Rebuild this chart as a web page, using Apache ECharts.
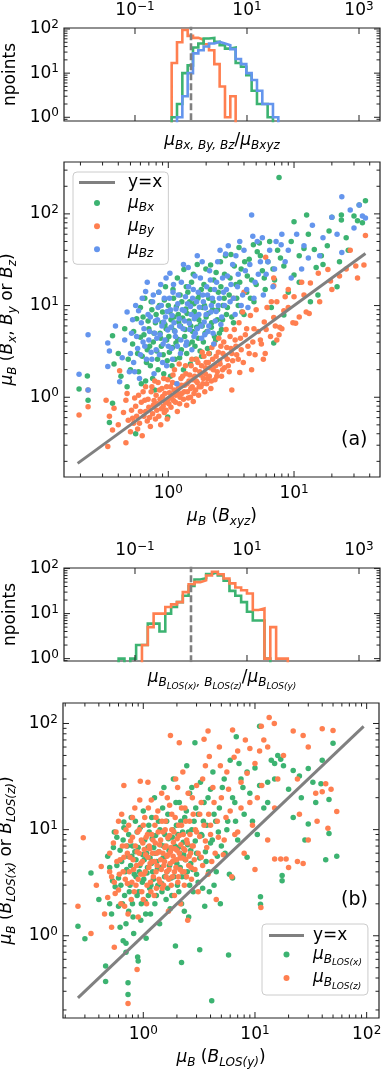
<!DOCTYPE html>
<html>
<head>
<meta charset="utf-8">
<script src="https://cdn.jsdelivr.net/npm/echarts@6/dist/echarts.min.js"></script>
<style>
html, body { margin: 0; padding: 0; background: #fff; }
#chart { width: 382px; height: 1070px; }
</style>
</head>
<body>
<div id="chart"></div>
<script>
// top histogram: mu_Bx,By,Bz / mu_Bxyz
const hist1Edges = [0.4518, 0.5626, 0.7005, 0.8722, 1.0859, 1.3521, 1.6835, 2.0961, 2.6097, 3.2495, 4.0459,
  5.0374, 6.2718, 7.8095, 9.7231, 12.106, 15.073, 18.767, 23.367, 29.094, 36.225]
const hist1Bx = [1, 2, 10, 15, 38, 47, 61, 63, 51, 43, 36, 38, 17, 14, 9, 4, 2, 2, 1, 0]
const hist1By = [17, 50, 95, 70, 63, 57, 45, 33, 16, 5, 1, 3, 0, 0, 0, 0, 0, 0, 0, 0]
const hist1Bz = [0, 1, 3, 10, 28, 33, 40, 47, 51, 47, 43, 35, 21, 16, 10, 7, 4, 2, 2, 1]

// second histogram: mu_BLOS(x),BLOS(z) / mu_BLOS(y)
const hist2Edges = [0.05102, 0.06484, 0.08243, 0.10476, 0.13316, 0.16928, 0.21513, 0.27346, 0.34762, 0.44175,
  0.56156, 0.71386, 0.90721, 1.1532, 1.4659, 1.8630, 2.3681, 3.0103, 3.8252, 4.8627, 6.1818, 7.8567, 9.9862,
  12.694, 16.133, 20.508, 26.068, 33.128, 42.109, 53.52]
const hist2Lx = [1, 0, 1, 2, 2, 6, 6, 4, 10, 14, 18, 25, 41, 57, 61, 76, 83, 70, 54, 32, 25, 18, 11, 7, 7, 1, 0, 0, 0]
const hist2Lz = [0, 0, 0, 0, 2, 5, 10, 10, 14, 16, 18, 30, 45, 50, 55, 70, 85, 75, 60, 47, 38, 33, 28, 12, 13, 1, 5, 1, 1]

// panel (a): mu_B(Bxyz) vs mu_B(Bx), mu_B(By), mu_B(Bz)
const aBx = [[0.195,1.23],[0.227,1.71],[0.23,0.93],[0.34,0.53],[0.36,4.7],[0.37,2.3],[0.36,0.86],[0.40,3.0],[0.42,1.7],
  [0.45,5.6],[0.47,1.3],[0.48,2.6],[0.52,3.8],[0.55,0.4],[0.56,7.2],[0.58,1.9],[0.6,4.5],[0.62,2.8],[0.63,7.5],[0.65,12],
  [0.66,1.5],[0.68,3.3],[0.7,5.6],[0.72,2.2],[0.74,9.0],[0.76,4.0],[0.78,1.2],[0.79,6.5],[0.82,2.6],[0.84,14],[0.86,5.0],
  [0.88,3.6],[0.9,8.5],[0.92,1.8],[0.94,6.2],[0.95,16],[0.97,4.2],[0.99,0.61],[1.0,10],[1.02,3.1],[1.05,7.0],[1.07,2.2],
  [1.1,12],[1.12,5.3],[1.15,3.9],[1.18,20],[1.2,8.0],[1.23,2.7],[1.25,6.0],[1.28,11],[1.33,24.8],[1.35,4.6],[1.38,9.2],
  [1.4,3.0],[1.43,14],[1.46,6.8],[1.5,2.3],[1.53,18],[1.56,5.2],[1.6,10.5],[1.63,3.6],[1.66,7.8],[1.7,28],[1.73,4.4],
  [1.77,13],[1.8,6.2],[1.84,2.8],[1.88,9.5],[1.92,17],[1.96,5.0],[2.0,7.5],[2.05,3.4],[2.1,12],[2.17,27.7],[2.2,5.8],
  [2.25,9.0],[2.3,19],[2.38,4.2],[2.45,7.0],[2.5,14],[2.6,30],[2.65,5.5],[2.72,10],[2.8,22],[2.9,8.0],[3.05,13],[3.15,36],
  [3.3,6.5],[3.45,17],[3.6,10],[3.65,43],[3.8,25],[4.0,8.0],[4.2,14],[4.4,32],[4.6,19],[4.8,11],[5.1,38.7],[5.3,48],
  [5.6,24],[5.9,15],[6.2,30],[6.6,9.5],[6.9,3.9],[7.0,19],[7.4,40],[7.6,250],[8.3,7.9],[8.3,27],[9.0,14],[10,21.6],[10,82],
  [11,35],[12,42],[12.6,97],[13.5,11],[14.5,41],[15,26],[15.5,13],[16.5,35],[18.4,45],[20,92],[22,16],[23,30],[23.8,97],
  [23.8,86],[27,40],[30,95],[32,84],[33,125],[37,139],
  [0.5,2.0],[0.53,5.2],[0.57,3.0],[0.6,9.5],[0.61,1.4],[0.64,4.8],[0.67,2.4],[0.69,6.8],[0.71,3.6],[0.73,11],[0.75,1.6],
  [0.77,5.0],[0.8,8.0],[0.81,3.2],[0.83,2.0],[0.85,10],[0.87,4.4],[0.89,6.5],[0.91,2.9],[0.93,11.5],[0.96,5.6],[0.98,2.5],
  [1.01,4.6],[1.03,8.5],[1.04,1.7],[1.06,5.8],[1.08,3.5],[1.09,15],[1.11,7.5],[1.13,2.6],[1.16,9.8],[1.19,4.3],[1.21,6.6],
  [1.24,13],[1.27,3.3],[1.3,7.3],[1.32,2.0],[1.36,5.5],[1.39,16],[1.41,8.2],[1.44,3.8],[1.48,11],[1.51,6.0],[1.55,4.0],
  [1.58,22],[1.61,8.6],[1.65,2.6],[1.68,5.8],[1.72,12],[1.75,7.0],[1.79,3.2],[1.83,15],[1.86,6.0],[1.9,4.0],[1.94,10],
  [1.99,25],[2.03,5.2],[2.08,8.2],[2.12,3.0],[2.16,15],[2.21,6.5],[2.27,11],[2.33,4.6],[2.4,23],[2.47,9.0],[2.55,5.0],
  [2.62,16],[2.7,7.0],[2.78,12],[2.85,35],[2.95,9.5],[3.1,20],[3.2,7.5],[3.35,27],[3.5,12],[3.7,18],[3.85,8.5],[4.05,30],
  [4.25,21],[4.5,12],[4.75,46],[5.0,17],[5.4,35],[5.8,20],[6.4,50],[6.8,25],[7.8,33],[9.5,50],[11,18],[13,60],[17,28],
  [19,65],[26,55],[35,80]]
const aBy = [[0.195,0.64],[0.23,0.79],[0.23,1.2],[0.32,0.93],[0.33,0.29],[0.34,0.62],[0.36,0.44],[0.37,0.76],[0.40,0.50],
  [0.41,1.95],[0.44,0.68],[0.46,0.93],[0.46,0.32],[0.47,1.1],[0.48,0.56],[0.52,0.59],[0.53,0.52],[0.55,0.80],[0.57,0.45],
  [0.58,1.05],[0.60,0.70],[0.62,0.38],[0.64,0.62],[0.65,0.93],[0.66,1.3],[0.68,0.55],[0.70,0.78],[0.72,0.48],[0.73,1.15],
  [0.75,0.66],[0.77,0.92],[0.78,1.5],[0.79,0.58],[0.82,0.85],[0.84,0.62],[0.85,1.2],[0.87,0.5],[0.88,0.75],[0.9,1.02],
  [0.92,1.6],[0.93,0.68],[0.95,0.88],[0.97,1.3],[0.98,0.58],[1.0,0.95],[1.02,1.12],[1.05,0.78],[1.08,1.45],[1.1,0.92],
  [1.12,2.0],[1.15,1.05],[1.18,0.7],[1.2,1.25],[1.23,0.85],[1.26,1.6],[1.28,1.1],[1.32,0.95],[1.35,1.35],[1.38,1.8],
  [1.4,0.82],[1.42,1.15],[1.46,1.5],[1.5,1.0],[1.52,2.2],[1.55,1.3],[1.58,0.9],[1.62,1.7],[1.65,1.2],[1.68,2.6],[1.7,1.45],
  [1.74,1.05],[1.78,1.9],[1.82,1.3],[1.86,3.1],[1.9,1.6],[1.95,1.15],[1.98,2.1],[2.02,1.4],[2.08,2.4],[2.12,1.7],[2.18,1.25],
  [2.22,3.5],[2.28,2.0],[2.35,1.55],[2.4,2.8],[2.45,1.9],[2.52,4.4],[2.58,2.3],[2.65,1.7],[2.72,3.0],[2.8,2.1],[2.88,5.5],
  [2.95,2.6],[3.05,1.9],[3.15,3.4],[3.2,1.2],[3.25,2.5],[3.3,12],[3.4,4.2],[3.5,2.9],[3.65,6.5],[3.7,1.86],[3.8,3.3],
  [3.95,2.4],[4.0,14],[4.1,4.8],[4.3,3.6],[4.5,7.8],[4.6,2.0],[4.7,4.0],[4.9,2.9],[5.2,5.2],[5.5,3.8],[5.7,2.6],[5.8,6.6],
  [5.9,3.0],[5.95,33.6],[6.1,9.5],[6.5,4.6],[6.9,16.4],[6.9,20],[6.9,7.4],[7.3,11],[7.3,4.2],[7.6,4.8],[7.7,5.8],[8.3,8.8],
  [8.5,12.5],[9.0,15],[9.8,6.5],[10,12.5],[10.3,6.4],[11.5,18],[12.5,8.5],[13.2,8.2],[13.5,17.6],[15.6,22.5],[18.6,24.7],
  [19.5,18.5],[23,21],[28,40],[31,27],[36,27.7],[37,58],
  [0.5,0.42],[0.51,0.72],[0.54,0.98],[0.56,0.62],[0.59,0.52],[0.61,0.88],[0.63,1.15],[0.66,0.7],[0.69,0.95],[0.71,0.6],
  [0.74,1.3],[0.76,0.82],[0.8,1.05],[0.81,0.72],[0.83,1.45],[0.86,0.95],[0.89,1.25],[0.91,0.8],[0.94,1.1],[0.96,0.72],
  [0.99,1.55],[1.01,0.85],[1.04,1.3],[1.06,1.0],[1.09,1.75],[1.11,1.2],[1.14,0.88],[1.17,1.4],[1.19,1.1],[1.22,2.3],
  [1.24,1.0],[1.27,1.35],[1.3,1.7],[1.34,1.15],[1.37,2.2],[1.41,1.4],[1.44,0.98],[1.48,1.75],[1.51,1.25],[1.54,2.6],
  [1.57,1.55],[1.6,1.1],[1.64,2.0],[1.67,1.5],[1.72,2.4],[1.76,1.3],[1.8,1.75],[1.84,2.2],[1.88,1.4],[1.92,2.8],[1.97,1.8],
  [2.0,2.4],[2.05,1.6],[2.1,3.0],[2.15,2.1],[2.2,1.5],[2.25,2.6],[2.32,3.8],[2.38,2.2],[2.43,1.7],[2.5,3.1],[2.56,2.5],
  [2.62,3.6],[2.7,2.0],[2.76,4.0],[2.84,2.8],[2.92,3.5],[3.0,2.2],[3.1,4.6],[3.2,3.0],[3.35,5.5],[3.45,3.6],[3.6,2.6],
  [3.75,4.4],[3.9,8.5],[4.2,5.6],[4.4,3.0],[4.8,5.6],[5.0,9.0],[5.4,4.2],[6.0,5.5],[6.6,11],[7.1,6.0],[8.0,5.6],[9.0,9.5],
  [11,7.5],[12,13],[16,11],[20,15],[26,25],[32,20]]
const aBz = [[0.195,1.78],[0.23,1.2],[0.23,4.8],[0.33,3.9],[0.34,3.2],[0.33,2.16],[0.38,6.0],[0.41,1.48],[0.43,2.7],
  [0.45,4.2],[0.47,8.5],[0.49,1.9],[0.51,5.0],[0.53,2.4],[0.55,10],[0.57,3.4],[0.59,1.6],[0.61,6.5],[0.63,4.0],[0.66,14.2],
  [0.67,2.6],[0.69,8.0],[0.71,5.2],[0.73,3.1],[0.75,11],[0.77,1.8],[0.79,6.8],[0.81,4.4],[0.83,9.5],[0.85,2.9],[0.87,17],
  [0.89,6.0],[0.91,3.8],[0.93,12],[0.95,7.5],[0.97,2.2],[0.99,5.4],[1.03,22.5],[1.04,9.0],[1.06,3.4],[1.09,14],[1.11,6.5],
  [1.14,4.6],[1.17,1.4],[1.19,10.5],[1.22,7.2],[1.25,3.0],[1.27,18],[1.31,5.6],[1.34,8.8],[1.37,12.5],[1.4,4.0],[1.44,26],
  [1.47,6.4],[1.5,9.8],[1.54,3.3],[1.58,15],[1.61,7.2],[1.64,5.0],[1.68,11],[1.7,35],[1.75,8.0],[1.8,20],[1.84,4.4],
  [1.88,13],[1.93,6.6],[1.97,9.4],[2.02,16],[2.07,5.2],[2.13,24],[2.18,8.5],[2.24,12],[2.3,3.8],[2.36,6.8],[2.42,18],
  [2.5,10],[2.58,40],[2.66,7.5],[2.75,14],[2.86,36.5],[2.95,21],[3.1,11],[3.25,28],[3.4,8.0],[3.55,16],[3.7,50],[3.9,13],
  [4.1,24],[4.3,9.5],[4.6,97],[4.7,57],[4.9,18],[5.1,50],[5.4,30],[5.7,13],[6.0,22],[6.4,40],[6.8,16],[7.2,50],[7.9,46],
  [8.5,30],[9.5,20],[10.5,60],[11.5,25],[13,33],[14,75],[17,55],[20,92],[24,38],[24,154],[30,70],[33,125],[35,95],[37,90],
  [0.5,3.0],[0.52,7.0],[0.54,1.9],[0.56,4.6],[0.58,8.8],[0.6,2.9],[0.62,12],[0.64,5.6],[0.65,3.6],[0.68,18],[0.7,4.2],
  [0.72,7.5],[0.74,2.6],[0.76,13],[0.78,5.0],[0.8,3.3],[0.82,7.0],[0.84,14],[0.86,4.8],[0.88,10],[0.9,2.4],[0.92,6.6],
  [0.94,4.2],[0.96,20],[0.98,8.6],[1.0,3.6],[1.02,12],[1.05,5.8],[1.07,7.8],[1.08,2.6],[1.1,17],[1.13,5.2],[1.15,9.2],
  [1.18,3.6],[1.2,13],[1.23,6.0],[1.26,4.2],[1.29,9.0],[1.32,28],[1.35,6.8],[1.38,3.7],[1.42,10.5],[1.45,16],[1.48,5.5],
  [1.52,8.0],[1.56,12],[1.6,4.6],[1.63,21],[1.66,7.6],[1.7,5.6],[1.73,14],[1.77,9.6],[1.82,6.0],[1.86,30],[1.9,11],
  [1.95,4.8],[2.0,8.0],[2.05,13],[2.1,6.0],[2.16,19],[2.2,10],[2.27,5.0],[2.33,15],[2.4,8.6],[2.47,30],[2.55,12],[2.62,6.2],
  [2.7,20],[2.8,10],[2.9,15],[3.0,45],[3.15,17],[3.3,12],[3.45,35],[3.6,22],[3.8,10],[4.0,40],[4.2,15],[4.45,28],[4.8,12],
  [5.2,22],[5.6,55],[6.2,30],[7.0,25],[8.0,60],[9.0,40],[12,45],[16,35],[22,60],[28,110]]

// panel (b): mu_B(BLOS(y)) vs mu_B(BLOS(x)), mu_B(BLOS(z))
const bLx = [[0.26,1.23],[0.30,0.94],[0.34,3.9],[0.40,2.2],[0.46,0.37],[0.46,0.52],[0.48,5.6],[0.50,4.4],[0.52,1.6],
  [0.54,6.8],[0.56,2.9],[0.58,8.5],[0.60,3.5],[0.62,1.2],[0.64,5.0],[0.66,0.9],[0.67,11.8],[0.67,10.4],[0.68,2.4],
  [0.70,0.7],[0.70,0.85],[0.71,4.2],[0.72,7.0],[0.73,0.36],[0.73,0.28],[0.74,1.7],[0.76,3.0],[0.78,13],[0.79,5.6],
  [0.80,2.0],[0.82,1.05],[0.84,6.2],[0.86,3.6],[0.88,9.5],[0.89,0.63],[0.90,0.58],[0.91,2.6],[0.93,4.6],[0.95,1.4],
  [0.97,7.8],[0.98,3.2],[1.0,15],[1.02,5.2],[1.04,2.1],[1.06,0.95],[1.08,3.9],[1.10,6.8],[1.12,11],[1.14,2.8],[1.16,1.6],
  [1.18,4.8],[1.20,8.2],[1.23,3.4],[1.26,20],[1.28,6.0],[1.31,2.4],[1.34,4.3],[1.37,12],[1.40,1.3],[1.43,7.2],[1.46,3.1],
  [1.50,5.4],[1.53,25],[1.56,9.0],[1.60,2.2],[1.63,4.0],[1.66,14],[1.70,6.4],[1.74,1.8],[1.78,3.5],[1.82,8.5],[1.86,30],
  [1.90,5.0],[1.94,0.8],[1.98,11],[2.02,3.0],[2.06,6.8],[2.10,18],[2.14,4.4],[2.2,0.56],[2.2,2.0],[2.25,9.5],[2.3,5.8],
  [2.35,13],[2.4,3.6],[2.45,40],[2.5,7.2],[2.55,1.5],[2.6,22],[2.66,4.8],[2.72,10],[2.8,2.6],[2.9,66],[2.95,16],[3.0,6.0],
  [3.1,3.2],[3.2,0.74],[3.25,28],[3.35,8.8],[3.45,12],[3.55,1.9],[3.65,5.0],[3.8,20],[3.9,2.6],[4.0,7.5],[4.1,0.244],
  [4.2,35],[4.3,14],[4.5,4.0],[4.7,9.5],[4.9,2.0],[5.1,25],[5.4,6.0],[5.8,0.66],[5.7,12],[6.0,45],[6.3,3.5],[6.6,18],
  [6.8,75],[7.0,8.0],[7.5,30],[8.0,14],[8.5,5.5],[9.0,22],[10,38],[10.5,9.0],[11,94],[11.2,2.33],[11.2,1.98],[12,16],
  [13,28],[14,45],[15,42],[16,50],[17,46],[17.5,3.7],[17.5,3.3],[20,24],[22,13],[25,32],[28,8.0],[30,37.7],[30,11.3],
  [35,18],[39,27],[43,5.2],[46,9.2],[46,19.2],[50,65],[54,5.6],
  [0.5,2.0],[0.53,3.3],[0.55,9.5],[0.58,4.6],[0.6,1.9],[0.62,6.4],[0.63,3.0],[0.65,2.0],[0.66,8.0],[0.69,4.0],[0.7,1.3],
  [0.72,5.6],[0.74,9.0],[0.75,2.6],[0.77,4.6],[0.8,7.0],[0.81,1.5],[0.83,3.8],[0.85,12],[0.86,5.2],[0.88,2.4],[0.9,6.8],
  [0.92,4.0],[0.94,10.5],[0.96,2.0],[0.99,5.8],[1.01,3.4],[1.03,8.0],[1.05,1.6],[1.07,6.0],[1.09,4.4],[1.11,2.4],[1.13,9.5],
  [1.15,5.4],[1.17,3.0],[1.19,13],[1.21,4.0],[1.24,6.8],[1.27,2.0],[1.29,8.8],[1.32,5.0],[1.35,3.0],[1.38,6.2],[1.41,10],
  [1.44,4.4],[1.47,2.6],[1.49,16],[1.52,7.0],[1.55,3.6],[1.58,5.6],[1.62,12],[1.65,2.8],[1.68,8.2],[1.72,4.6],[1.76,6.6],
  [1.8,2.4],[1.84,10],[1.88,3.6],[1.92,7.0],[1.96,18],[2.0,4.8],[2.04,9.0],[2.08,2.6],[2.12,6.0],[2.17,12],[2.22,3.6],
  [2.28,7.6],[2.33,1.7],[2.38,5.2],[2.43,15],[2.48,4.0],[2.54,9.5],[2.6,3.0],[2.66,6.4],[2.72,25],[2.78,4.2],[2.85,12],
  [2.92,7.8],[3.0,3.8],[3.1,14],[3.2,5.4],[3.3,9.0],[3.4,2.8],[3.5,18],[3.6,6.2],[3.7,11],[3.85,4.0],[4.0,24],[4.15,8.0],
  [4.3,3.0],[4.45,12],[4.6,5.6],[4.8,16],[5.0,7.0],[5.3,30],[5.6,10],[5.9,3.8],[6.3,20],[6.7,12],[7.2,42],[7.8,25],[8.5,35],
  [9.5,12],[11,26],[13,18],[15,30],[18,40],[22,36],[26,20],[33,28],[40,45]]
const bLz = [[0.26,1.9],[0.29,8.4],[0.34,1.05],[0.38,3.0],[0.42,4.5],[0.45,1.6],[0.48,2.3],[0.50,6.0],[0.52,3.6],
  [0.55,0.78],[0.55,3.2],[0.57,9.5],[0.60,2.7],[0.62,5.2],[0.64,14],[0.66,4.0],[0.67,26],[0.68,1.9],[0.70,7.0],[0.72,3.1],
  [0.73,0.23],[0.74,11],[0.76,5.5],[0.78,2.2],[0.80,8.5],[0.82,4.2],[0.84,16],[0.86,3.0],[0.88,0.48],[0.88,6.2],[0.90,1.5],
  [0.92,10],[0.94,28.6],[0.95,4.8],[0.97,2.6],[0.99,7.5],[1.01,3.8],[1.03,13],[1.05,5.8],[1.07,2.0],[1.09,9.0],[1.1,28],
  [1.12,4.4],[1.14,6.6],[1.16,3.2],[1.18,19],[1.2,5.0],[1.22,8.0],[1.25,2.4],[1.27,11],[1.3,4.0],[1.32,6.0],[1.35,15],
  [1.38,3.4],[1.4,7.2],[1.43,5.2],[1.46,22],[1.48,2.8],[1.5,9.5],[1.53,4.6],[1.56,6.8],[1.58,12],[1.6,3.6],[1.63,5.6],
  [1.66,8.4],[1.68,1.7],[1.7,4.2],[1.72,17],[1.75,6.2],[1.75,77],[1.78,3.0],[1.8,10],[1.83,5.0],[1.86,7.6],[1.9,2.4],
  [1.93,13],[1.96,4.4],[2.0,6.4],[2.03,25],[2.06,3.6],[2.1,66],[2.1,8.8],[2.13,5.4],[2.16,2.0],[2.2,11],[2.23,4.0],
  [2.26,35],[2.3,6.6],[2.33,3.0],[2.36,16],[2.4,5.2],[2.45,8.0],[2.5,1.4],[2.55,4.6],[2.6,12],[2.65,6.0],[2.7,3.4],
  [2.75,20],[2.8,7.0],[2.9,4.2],[3.0,9.5],[3.1,2.6],[3.2,14],[3.3,5.5],[3.4,30],[3.5,71],[3.6,7.8],[3.8,85],[3.8,3.8],
  [3.9,49],[4.0,11],[4.1,5.0],[4.3,18],[4.5,2.2],[4.7,8.5],[4.9,40],[5.2,5.8],[5.5,13],[5.8,24],[6.2,3.6],[6.3,87],
  [6.6,9.0],[7.0,55],[7.5,16],[8.0,6.0],[8.5,34],[9.0,58],[9.5,11],[10,4.2],[10.5,20],[11,55],[11.3,1.85],[11.4,94],
  [12,70],[13,8.0],[13.4,114],[14.9,100],[15,5.3],[16,30],[17,5.3],[19,5.3],[20,4.4],[22,85],[24,5.0],[25,14],[27,77],
  [27,4.8],[30,8.0],[35,22],[40,89],[40,22.7],[43,27],[45,10.3],[50,86],[54,14.8],
  [0.5,4.0],[0.52,1.2],[0.54,7.5],[0.56,2.5],[0.58,5.0],[0.6,12],[0.61,3.8],[0.63,2.0],[0.65,7.0],[0.67,5.5],[0.69,3.4],
  [0.7,10],[0.72,6.0],[0.73,1.6],[0.75,4.0],[0.77,7.8],[0.79,3.2],[0.8,13],[0.81,5.2],[0.83,2.6],[0.85,7.0],[0.87,4.6],
  [0.89,9.5],[0.9,3.4],[0.92,6.0],[0.93,19],[0.95,3.8],[0.96,8.0],[0.98,5.0],[1.0,11],[1.0,2.2],[1.02,6.5],[1.04,4.0],
  [1.06,8.5],[1.08,3.0],[1.1,5.5],[1.11,16],[1.13,7.0],[1.15,4.8],[1.17,2.6],[1.19,9.0],[1.21,6.0],[1.23,3.6],[1.26,5.0],
  [1.28,7.5],[1.3,13],[1.31,2.8],[1.33,4.6],[1.36,9.5],[1.38,6.2],[1.41,3.2],[1.43,8.0],[1.45,4.2],[1.47,12],[1.5,6.0],
  [1.52,3.0],[1.55,5.0],[1.57,10],[1.6,7.0],[1.62,4.0],[1.64,20],[1.67,5.8],[1.69,3.4],[1.72,8.8],[1.74,4.8],[1.77,6.8],
  [1.8,14],[1.82,3.6],[1.85,5.6],[1.88,9.5],[1.9,4.0],[1.92,6.6],[1.95,30],[1.98,5.2],[2.01,8.2],[2.04,3.2],[2.07,11],
  [2.1,6.0],[2.13,4.2],[2.17,7.2],[2.2,16],[2.24,5.4],[2.28,9.0],[2.32,4.0],[2.36,6.4],[2.4,12],[2.44,3.6],[2.48,7.5],
  [2.52,22],[2.57,5.6],[2.62,9.0],[2.68,4.4],[2.74,7.0],[2.8,14],[2.86,5.2],[2.93,10],[3.0,26],[3.1,6.0],[3.2,8.6],[3.3,18],
  [3.4,4.6],[3.5,11],[3.6,40],[3.7,6.8],[3.85,14],[4.0,9.0],[4.2,25],[4.4,6.0],[4.6,12],[4.8,60],[5.0,20],[5.3,8.0],
  [5.6,35],[6.0,15],[6.5,48],[7.0,9.5],[7.5,28],[8.2,70],[9.0,18],[10,42],[11.5,26],[13,60],[15,16],[18,50],[24,30],
  [30,60],[36,12],[48,24]]

const diagA = [[0.19, 0.19], [37, 37]]
const diagB = [[0.26, 0.26], [94, 94]]

const GREEN = '#3cb371'
const ORANGE = '#ff7f50'
const BLUE = '#6495ed'
const GREY = '#808080'
const INK = '#222'
const F = 'DejaVu Sans'

const LBL = {
  r: { fontFamily: F, fontSize: 17, lineHeight: 22, color: '#000' },
  m: { fontFamily: F, fontSize: 17, lineHeight: 22, fontStyle: 'italic', color: '#000' },
  s: { fontFamily: F, fontSize: 12, fontStyle: 'italic', verticalAlign: 'bottom', padding: [10, 0, 0, 0], color: '#000' },
  t: { fontFamily: F, fontSize: 12, fontStyle: 'italic', verticalAlign: 'bottom', padding: [0, 0, 2, 0], color: '#000' },
  u: { fontFamily: F, fontSize: 9, fontStyle: 'italic', verticalAlign: 'bottom', padding: [17, 0, 0, 0], color: '#000' }
}
const SUP = {
  b: { fontFamily: F, fontSize: 17, color: '#000' },
  p: { fontFamily: F, fontSize: 12, verticalAlign: 'top', padding: [0, 0, 8, 0], color: '#000' }
}

function decadeLabel(keep) {
  return v => {
    const l = Math.log10(v)
    const e = Math.round(l)
    if (Math.abs(l - e) > 1e-6) return ''
    if (keep && keep.indexOf(e) < 0) return ''
    return '{b|10}{p|' + (e < 0 ? '\u2212' + (-e) : e) + '}'
  }
}

function minors(lo, hi) {
  const out = []
  for (let d = 0.1; d <= 100; d *= 10) {
    for (let k = 2; k <= 9; k++) {
      const v = +(k * d).toPrecision(3)
      if (v > lo && v < hi) out.push(v)
    }
  }
  return out
}

function stepLine(edges, counts) {
  const floor = 0.3
  const pts = [[edges[0], floor]]
  counts.forEach((c, i) => {
    const v = c > 0 ? c : floor
    pts.push([edges[i], v], [edges[i + 1], v])
  })
  pts.push([edges[counts.length], floor])
  return pts
}

// inward ticks on all four sides of a grid
function tickSeries(xi, yi, xMaj, xMin, yMaj, yMin) {
  const data = []
  xMaj.forEach(v => data.push([v, 1, 0, 6]))
  xMin.forEach(v => data.push([v, 1, 0, 3.5]))
  yMaj.forEach(v => data.push([1, v, 1, 6]))
  yMin.forEach(v => data.push([1, v, 1, 3.5]))
  return {
    type: 'custom',
    xAxisIndex: xi,
    yAxisIndex: yi,
    silent: true,
    z: 5,
    encode: { x: 0, y: 1 },
    data: data,
    renderItem: (params, api) => {
      const cs = params.coordSys
      const p = api.coord([api.value(0), api.value(1)])
      const len = api.value(3)
      const st = { stroke: INK, lineWidth: 1 }
      if (api.value(2) === 0) {
        return { type: 'group', children: [
          { type: 'line', shape: { x1: p[0], y1: cs.y + cs.height, x2: p[0], y2: cs.y + cs.height - len }, style: st },
          { type: 'line', shape: { x1: p[0], y1: cs.y, x2: p[0], y2: cs.y + len }, style: st }
        ] }
      }
      return { type: 'group', children: [
        { type: 'line', shape: { x1: cs.x, y1: p[1], x2: cs.x + len, y2: p[1] }, style: st },
        { type: 'line', shape: { x1: cs.x + cs.width, y1: p[1], x2: cs.x + cs.width - len, y2: p[1] }, style: st }
      ] }
    }
  }
}

function logAxis(grid, min, max, extra) {
  return Object.assign({
    type: 'log',
    logBase: 10,
    gridIndex: grid,
    min: min,
    max: max,
    axisLine: { show: false },
    axisTick: { show: false },
    splitLine: { show: false },
    axisLabel: { show: false }
  }, extra)
}

function label(keep, margin) {
  return { show: true, interval: 0, margin: margin, formatter: decadeLabel(keep), rich: SUP }
}

function nameOpt(name, gap, rotate) {
  return {
    name: name,
    nameLocation: 'middle',
    nameGap: gap,
    nameRotate: rotate || 0,
    nameTextStyle: { fontFamily: F, fontSize: 17, color: '#000', rich: LBL }
  }
}

function histLine(xi, yi, pts, color) {
  return {
    type: 'line', xAxisIndex: xi, yAxisIndex: yi, data: pts, symbol: 'none', silent: true,
    lineStyle: { color: color, width: 2.6, join: 'miter' }, z: 3
  }
}

function dashLine(xi, yi) {
  return {
    type: 'line', xAxisIndex: xi, yAxisIndex: yi, data: [[1, 0.3], [1, 500]], symbol: 'none', silent: true,
    lineStyle: { color: GREY, width: 2.6, type: [7, 3] }, z: 4
  }
}

function dots(name, xi, yi, pts, color) {
  return {
    name: name, type: 'scatter', xAxisIndex: xi, yAxisIndex: yi, data: pts, symbolSize: 5.5,
    itemStyle: { color: color, opacity: 1 }, z: 2
  }
}

function diag(xi, yi, pts) {
  return {
    name: 'y=x', type: 'line', xAxisIndex: xi, yAxisIndex: yi, data: pts, symbol: 'none',
    itemStyle: { color: GREY }, lineStyle: { color: GREY, width: 3 }, z: 3
  }
}

const LEG = {
  'y=x': '{r|y=x}',
  aBx: '{m|\u03bc}{s|Bx}',
  aBy: '{m|\u03bc}{s|By}',
  aBz: '{m|\u03bc}{s|Bz}',
  bLx: '{m|\u03bc}{t|B}{u|LOS(x)}',
  bLz: '{m|\u03bc}{t|B}{u|LOS(z)}'
}
const LINE_ICON = 'path://M0,0H36V3H0Z'

const gridStyle = { show: true, borderColor: INK, borderWidth: 1.2, backgroundColor: 'transparent', outerBoundsMode: 'none' }

const option = {
  animation: false,
  backgroundColor: '#fff',
  grid: [
    Object.assign({ left: 64, top: 28, width: 316, height: 93 }, gridStyle),
    Object.assign({ left: 64, top: 162, width: 316, height: 315 }, gridStyle),
    Object.assign({ left: 64, top: 568, width: 316, height: 93 }, gridStyle),
    Object.assign({ left: 63, top: 703, width: 316, height: 315 }, gridStyle)
  ],
  xAxis: [
    logAxis(0, 0.0054, 2371, { position: 'top', axisLabel: label([-1, 1, 3], 7) }),
    logAxis(0, 0.0054, 2371, Object.assign({ position: 'bottom' },
      nameOpt('{m|\u03bc}{s|Bx, By, Bz}{r|/}{m|\u03bc}{s|Bxyz}', 9))),
    logAxis(1, 0.148, 48.3, Object.assign({ position: 'bottom', axisLabel: label(null, 7) },
      nameOpt('{m|\u03bc}{s|B}{r| (}{m|B}{s|xyz}{r|)}', 29))),
    logAxis(2, 0.0054, 2371, { position: 'top', axisLabel: label([-1, 1, 3], 7) }),
    logAxis(2, 0.0054, 2371, Object.assign({ position: 'bottom' },
      nameOpt('{m|\u03bc}{t|B}{u|LOS(x)}{t|, B}{u|LOS(z)}{r|/}{m|\u03bc}{t|B}{u|LOS(y)}', 4))),
    logAxis(3, 0.191, 129, Object.assign({ position: 'bottom', axisLabel: label(null, 7) },
      nameOpt('{m|\u03bc}{s|B}{r| (}{m|B}{s|LOS(y)}{r|)}', 29)))
  ],
  yAxis: [
    logAxis(0, 0.824, 105.4, Object.assign({ axisLabel: label(null, 5) }, nameOpt('{r|npoints}', 39, 90))),
    logAxis(1, 0.135, 368, Object.assign({ axisLabel: label(null, 5) },
      nameOpt('{m|\u03bc}{s|B}{r| (}{m|B}{s|x}{r|, }{m|B}{s|y}{r| or }{m|B}{s|z}{r|)}', 42, 90))),
    logAxis(2, 0.885, 103, Object.assign({ axisLabel: label(null, 5) }, nameOpt('{r|npoints}', 39, 90))),
    logAxis(3, 0.168, 156, Object.assign({ axisLabel: label(null, 5) },
      nameOpt('{m|\u03bc}{s|B}{r| (}{m|B}{s|LOS(x)}{r| or }{m|B}{s|LOS(z)}{r|)}', 42, 90)))
  ],
  legend: [
    {
      left: 73, top: 172, orient: 'vertical', itemWidth: 36, itemHeight: 6, itemGap: 3.6,
      symbolKeepAspect: true, selectedMode: false,
      padding: [2, 6, 4, 6], backgroundColor: 'rgba(255,255,255,0.8)', borderColor: '#cccccc', borderWidth: 1, borderRadius: 4,
      textStyle: { rich: LBL, padding: [0, 0, 0, 8] },
      formatter: n => LEG[n],
      data: [{ name: 'y=x', icon: LINE_ICON }, { name: 'aBx', icon: 'circle' }, { name: 'aBy', icon: 'circle' }, { name: 'aBz', icon: 'circle' }]
    },
    {
      left: 262, top: 924, orient: 'vertical', itemWidth: 35, itemHeight: 6, itemGap: 2,
      symbolKeepAspect: true, selectedMode: false,
      padding: [3, 6, 4, 7], backgroundColor: 'rgba(255,255,255,0.8)', borderColor: '#cccccc', borderWidth: 1, borderRadius: 4,
      textStyle: { rich: LBL, padding: [0, 0, 0, 4] },
      formatter: n => LEG[n],
      data: [{ name: 'y=x', icon: LINE_ICON }, { name: 'bLx', icon: 'circle' }, { name: 'bLz', icon: 'circle' }]
    }
  ],
  graphic: [
    { type: 'text', left: 341, top: 431, style: { text: '(a)', font: '19px "DejaVu Sans"', fill: '#000' } },
    { type: 'text', left: 341, top: 891, style: { text: '(b)', font: '19px "DejaVu Sans"', fill: '#000' } }
  ],
  series: [
    histLine(0, 0, stepLine(hist1Edges, hist1By), ORANGE),
    histLine(0, 0, stepLine(hist1Edges, hist1Bx), GREEN),
    histLine(0, 0, stepLine(hist1Edges, hist1Bz), BLUE),
    dashLine(0, 0),
    dots('aBx', 2, 1, aBx, GREEN),
    dots('aBy', 2, 1, aBy, ORANGE),
    dots('aBz', 2, 1, aBz, BLUE),
    diag(2, 1, diagA),
    histLine(3, 2, stepLine(hist2Edges, hist2Lx), GREEN),
    histLine(3, 2, stepLine(hist2Edges, hist2Lz), ORANGE),
    dashLine(3, 2),
    dots('bLx', 5, 3, bLx, GREEN),
    dots('bLz', 5, 3, bLz, ORANGE),
    diag(5, 3, diagB),
    tickSeries(0, 0, [0.1, 10, 1000], [], [1, 10, 100], minors(0.824, 105.4)),
    tickSeries(2, 1, [1, 10], minors(0.148, 48.3), [1, 10, 100], minors(0.135, 368)),
    tickSeries(3, 2, [0.1, 10, 1000], [], [1, 10, 100], minors(0.885, 103)),
    tickSeries(5, 3, [1, 10, 100], minors(0.191, 129), [1, 10, 100], minors(0.168, 156))
  ]
}

const myChart = echarts.init(document.getElementById('chart'))
myChart.setOption(option)
</script>
</body>
</html>
